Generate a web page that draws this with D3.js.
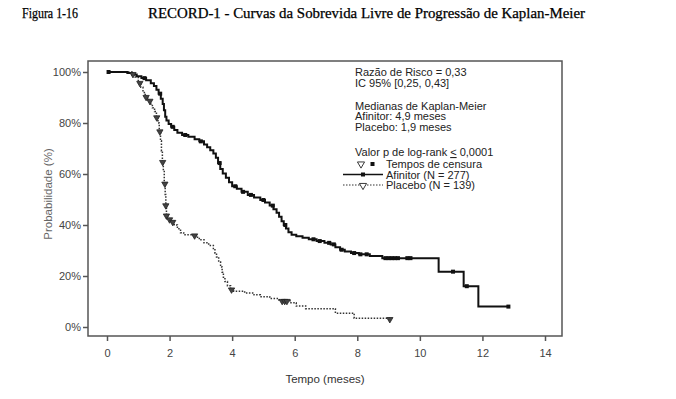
<!DOCTYPE html>
<html>
<head>
<meta charset="utf-8">
<script src="https://cdn.jsdelivr.net/npm/d3@7"></script>
<style>
  body { margin: 0; background: #fff; }
  svg text { font-family: "Liberation Sans", Arial, sans-serif; }
</style>
</head>
<body>
<div id="chart"></div>
<script>
// Kaplan-Meier step points (time in months, survival in %)
var afinitorTime = [0, 0.65, 0.8, 0.95, 1.1, 1.25, 1.4, 1.5, 1.58, 1.65, 1.72, 1.78, 1.82, 1.86, 1.9, 1.97,
  2.05, 2.15, 2.25, 2.4, 2.6, 2.8, 2.95, 3.1, 3.2, 3.3, 3.4, 3.48, 3.55, 3.62, 3.7, 3.8, 3.9, 4.0,
  4.15, 4.3, 4.5, 4.7, 4.9, 5.05, 5.2, 5.32, 5.42, 5.5, 5.58, 5.65, 5.72, 5.8, 5.9, 6.05, 6.25,
  6.45, 6.7, 6.95, 7.15, 7.3, 7.45, 7.6, 7.8, 8.05, 8.4, 8.8, 10.6, 11.4, 11.87, 12.83];
var afinitorSurv = [100, 99.6, 99, 98.3, 97.6, 96.8, 95.6, 94.5, 93, 91.5, 89.5, 87.5, 85, 82.5, 81, 79.6,
  78.5, 77.3, 76.2, 75.3, 74.6, 73.6, 72.8, 71.6, 70.5, 69.3, 68, 66.4, 64.3, 62, 60.2, 58.5, 56.8, 55.2,
  54.2, 53, 51.8, 50.8, 49.8, 48.8, 47.6, 46.2, 44.8, 43.2, 41.5, 40, 38.6, 37.2, 36.2, 35.6, 35,
  34.4, 33.7, 33, 32.4, 31.3, 30.3, 29.6, 29, 28.5, 27.8, 27, 21.7, 16, 8, 8];
var afinitorCensor = [0.05, 1.2, 1.7, 2.1, 2.5, 3.0, 3.6, 4.1, 4.35, 4.6, 5.0, 5.3, 5.7, 6.6, 6.8, 7.1,
  7.25, 7.5, 7.9, 8.1, 8.3, 8.9, 9.0, 9.1, 9.2, 9.3, 9.6, 9.7, 11.06, 11.5, 12.83];

var placeboTime = [0, 0.8, 0.9, 1.0, 1.08, 1.15, 1.22, 1.3, 1.38, 1.45, 1.52, 1.58, 1.63, 1.67, 1.71, 1.74,
  1.77, 1.8, 1.83, 1.86, 1.88, 1.9, 1.95, 2.05, 2.15, 2.25, 2.35, 2.45, 2.85, 2.95, 3.1, 3.25, 3.4,
  3.45, 3.5, 3.57, 3.63, 3.68, 3.72, 3.77, 3.85, 3.95, 4.05, 4.4, 4.7, 4.9, 5.2, 5.5, 5.85, 6.05,
  6.35, 7.3, 7.9, 9.04];
var placeboSurv = [100, 99.5, 98, 96, 94, 92, 90.5, 89, 87.5, 86, 84.5, 82.5, 80, 77, 73, 69,
  65, 61, 56.5, 52, 48, 44, 42.5, 41.5, 40, 38.5, 37, 36.2, 35.2, 34.2, 33, 32, 30.8,
  29, 27.5, 25.5, 23.5, 21.5, 19.5, 17.8, 16.2, 15, 14, 13.3, 12.6, 11.9, 11.2, 10.5, 9.5, 8.2,
  7.2, 5.4, 3.4, 3.4];
var placeboCensor = [0.83, 1.05, 1.25, 1.37, 1.59, 1.69, 1.78, 1.85, 1.88, 1.9, 2.0, 2.1, 2.8, 3.98,
  5.6, 5.68, 5.75, 9.04];

var xTicks = [0, 2, 4, 6, 8, 10, 12, 14];
var yTicks = [0, 20, 40, 60, 80, 100];

var legendLines = ["Razão de Risco = 0,33", "IC 95% [0,25, 0,43]", "",
  "Medianas de Kaplan-Meier", "Afinitor: 4,9 meses", "Placebo: 1,9 meses"];

var svgWidth = 676;
var svgHeight = 399;

var svg = d3.select("#chart")
  .append("svg")
  .attr("width", svgWidth)
  .attr("height", svgHeight);

// figure caption
svg.append("text")
  .attr("x", 22)
  .attr("y", 18)
  .style("font-family", "'Liberation Serif', 'Times New Roman', serif")
  .style("font-size", "14px")
  .attr("textLength", 56)
  .attr("lengthAdjust", "spacingAndGlyphs")
  .attr("fill", "#000")
  .attr("stroke", "#000")
  .attr("stroke-width", 0.25)
  .text("Figura 1-16");

svg.append("text")
  .attr("x", 148)
  .attr("y", 18)
  .style("font-family", "'Liberation Serif', 'Times New Roman', serif")
  .style("font-size", "14px")
  .attr("textLength", 437)
  .attr("lengthAdjust", "spacingAndGlyphs")
  .attr("fill", "#000")
  .attr("stroke", "#000")
  .attr("stroke-width", 0.25)
  .text("RECORD-1 - Curvas da Sobrevida Livre de Progressão de Kaplan-Meier");

// scales
var xScale = d3.scaleLinear().domain([0, 14]).range([107, 545]);
var yScale = d3.scaleLinear().domain([0, 100]).range([327, 72]);

// plot frame
svg.append("rect")
  .attr("x", 88)
  .attr("y", 61)
  .attr("width", 474)
  .attr("height", 275)
  .attr("fill", "none")
  .attr("stroke", "#555")
  .attr("stroke-width", 1.5);

// axes
var bottomAxis = d3.axisBottom(xScale).tickValues(xTicks).tickSize(5).tickPadding(8);
var leftAxis = d3.axisLeft(yScale).tickValues(yTicks).tickSize(5).tickPadding(2)
  .tickFormat(d => d + "%");

var xg = svg.append("g")
  .attr("transform", "translate(0, 336)")
  .call(bottomAxis);
var yg = svg.append("g")
  .attr("transform", "translate(88, 0)")
  .call(leftAxis);

[xg, yg].forEach(function(g) {
  g.select(".domain").remove();
  g.selectAll("line").attr("stroke", "#555").attr("stroke-width", 1.5);
  g.selectAll("text").attr("fill", "#444").style("font-size", "11px");
});

// axis titles
svg.append("text")
  .attr("x", 325)
  .attr("y", 383)
  .attr("text-anchor", "middle")
  .attr("fill", "#333")
  .style("font-size", "11.5px")
  .text("Tempo (meses)");

svg.append("text")
  .attr("transform", "translate(52, 194) rotate(-90)")
  .attr("text-anchor", "middle")
  .attr("fill", "#666")
  .style("font-size", "11.5px")
  .text("Probabilidade (%)");

// curves
var afinitorData = afinitorTime.map((t, i) => ({ t: t, s: afinitorSurv[i] }));
var placeboData = placeboTime.map((t, i) => ({ t: t, s: placeboSurv[i] }));

var stepLine = d3.line()
  .x(d => xScale(d.t))
  .y(d => yScale(d.s))
  .curve(d3.curveStepAfter);

svg.append("path")
  .datum(placeboData)
  .attr("d", stepLine)
  .attr("fill", "none")
  .attr("stroke", "#333")
  .attr("stroke-width", 1.5)
  .attr("stroke-dasharray", "1.5,1.5");

svg.append("path")
  .datum(afinitorData)
  .attr("d", stepLine)
  .attr("fill", "none")
  .attr("stroke", "#111")
  .attr("stroke-width", 2);

// survival value of a step curve at a given time
function stepValue(data, t) {
  var i = d3.bisector(d => d.t).right(data, t) - 1;
  return data[Math.max(0, i)].s;
}

var triangle = d3.symbol().type(d3.symbolTriangle).size(17);
var legendTriangle = d3.symbol().type(d3.symbolTriangle).size(22);

svg.selectAll(".pcens")
  .data(placeboCensor)
  .enter()
  .append("path")
  .attr("class", "pcens")
  .attr("d", triangle)
  .attr("transform", d => `translate(${xScale(d)}, ${yScale(stepValue(placeboData, d)) + 1}) rotate(180)`)
  .attr("fill", "#444")
  .attr("stroke", "#222")
  .attr("stroke-width", 0.8);

svg.selectAll(".acens")
  .data(afinitorCensor)
  .enter()
  .append("rect")
  .attr("class", "acens")
  .attr("x", d => xScale(d) - 2)
  .attr("y", d => yScale(stepValue(afinitorData, d)) - 2)
  .attr("width", 4)
  .attr("height", 4)
  .attr("fill", "#111");

// annotation / legend
var legend = svg.append("g").attr("fill", "#222").style("font-size", "11px");

legend.selectAll(".lt")
  .data(legendLines)
  .enter()
  .append("text")
  .attr("class", "lt")
  .attr("x", 355)
  .attr("y", (d, i) => 76 + i * 10.5 + (i > 2 ? 2 : 0))
  .text(d => d);

var pText = legend.append("text").attr("x", 355).attr("y", 156);
pText.append("tspan").text("Valor p de log-rank ");
pText.append("tspan").style("text-decoration", "underline").text("<");
pText.append("tspan").text(" 0,0001");

legend.append("path")
  .attr("d", legendTriangle)
  .attr("transform", "translate(361, 164) rotate(180)")
  .attr("fill", "#fff")
  .attr("stroke", "#222")
  .attr("stroke-width", 0.9);
legend.append("rect")
  .attr("x", 370.5).attr("y", 162).attr("width", 4).attr("height", 4)
  .attr("fill", "#111");
legend.append("text").attr("x", 386).attr("y", 168).text("Tempos de censura");

legend.append("line")
  .attr("x1", 343).attr("x2", 383).attr("y1", 174.5).attr("y2", 174.5)
  .attr("stroke", "#111").attr("stroke-width", 1.3);
legend.append("rect")
  .attr("x", 361).attr("y", 172.5).attr("width", 4).attr("height", 4)
  .attr("fill", "#111");
legend.append("text").attr("x", 386).attr("y", 178.5).text("Afinitor (N = 277)");

legend.append("line")
  .attr("x1", 343).attr("x2", 383).attr("y1", 185).attr("y2", 185)
  .attr("stroke", "#333").attr("stroke-width", 1.2)
  .attr("stroke-dasharray", "1.5,1.5");
legend.append("path")
  .attr("d", legendTriangle)
  .attr("transform", "translate(363, 185.5) rotate(180)")
  .attr("fill", "#fff")
  .attr("stroke", "#222")
  .attr("stroke-width", 0.9);
legend.append("text").attr("x", 386).attr("y", 189).text("Placebo (N = 139)");
</script>
</body>
</html>
